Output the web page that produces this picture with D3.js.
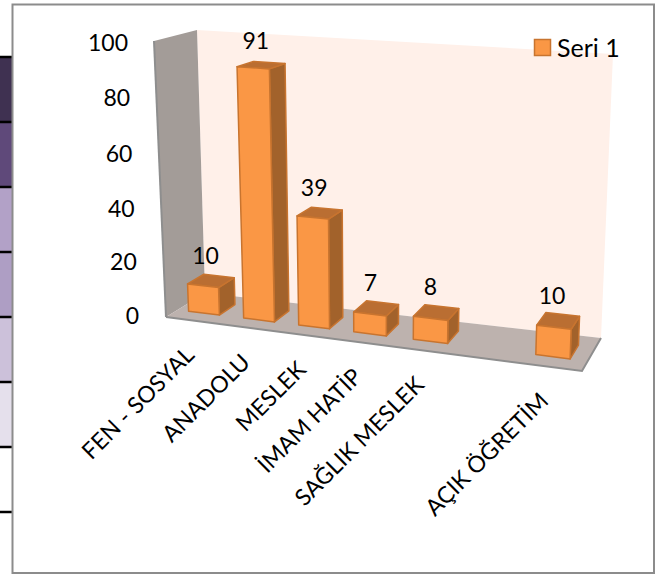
<!DOCTYPE html>
<html>
<head>
<meta charset="utf-8">
<script src="https://cdn.jsdelivr.net/npm/d3@7"></script>
<style>
  html, body { margin: 0; padding: 0; background: #fff; }
  text { font-family: Lato, sans-serif; fill: #000; }
</style>
</head>
<body>
<div id="container"></div>
<script>
/* DATA */
const categories = ["FEN - SOSYAL", "ANADOLU", "MESLEK", "İMAM HATİP", "SAĞLIK MESLEK", "", "AÇIK ÖĞRETİM"];
const values = [10, 91, 39, 7, 8, null, 10];
const yTicks = [0, 20, 40, 60, 80, 100];
const seriesName = "Seri 1";
// slide table showing behind the chart, left edge
const tableRows = [0, 1, 2, 3, 4, 5, 6, 7];
const tableColors = ["#3F3151", "#5F497A", "#B2A1C7", "#AE9EC4", "#CCC1DA", "#E5E0EC", "#FFFFFF"];

/* CONSTANTS */
const width = 663, height = 574;
const frame = {left: 12.5, top: 4.5, right: 654, bottom: 573};
const fontSize = 23;

// corners of the 3D box: front/back, left/right, bottom/top
const box = {
  flb: [166, 317], flt: [154, 41],
  blb: [205, 293], blt: [197, 30],
  frb: [582, 371], frt: [593, 68],
  brb: [601, 338], brt: [613, 54]
};

const colors = {
  front: "#FA9745", top: "#BA6E32", side: "#A2622B", stroke: "#C8742F",
  back: "#FFF0E9", wall: "#A39C98", floor: "#BDB2AE", edge: "#8E8E8E"
};

/* SCALES */
// v goes 0-100 on the wall, u across the floor, d into the depth
const vScale = d3.scaleLinear().domain([0, 100]).range([0, 1]);
// perspective bunches the near slots, so u is not quite linear
const uWarp = d3.scaleLinear().domain([0, 0.5, 1]).range([-0.003, 0.467, 0.99]);
const xBand = d3.scaleBand().domain(d3.range(categories.length)).range([0, 1])
  .paddingInner(0.44).paddingOuter(0.22);
// tick labels sit a bit unevenly on the slanted edge
const yAxisScale = d3.scaleLinear().domain([0, 50, 100]).range([316, 182, 43]);
const yLabelRight = d3.scaleLinear().domain([0, 100]).range([139, 128]);
const tableY = d3.scaleLinear().domain([0, 7]).range([57, 512]);

function project(u, d, value) {
  const t = vScale(value);
  const lerp = (a, b, k) => [a[0] + (b[0] - a[0]) * k, a[1] + (b[1] - a[1]) * k];
  const fl = lerp(box.flb, box.flt, t), fr = lerp(box.frb, box.frt, t);
  const bl = lerp(box.blb, box.blt, t), br = lerp(box.brb, box.brt, t);
  return lerp(lerp(fl, fr, u), lerp(bl, br, u), d);
}

const line = d3.line().curve(d3.curveLinearClosed);

/* DRAW */
const svg = d3.select("#container").append("svg")
  .attr("width", width).attr("height", height)
  .style("display", "block");

// table behind the chart
svg.append("g").selectAll("rect")
  .data(tableColors)
  .join("rect")
  .attr("x", 0).attr("width", frame.left)
  .attr("y", (d, i) => tableY(i))
  .attr("height", tableY(1) - tableY(0))
  .attr("fill", d => d);
svg.append("g").selectAll("line")
  .data(tableRows)
  .join("line")
  .attr("x1", 0).attr("x2", frame.left)
  .attr("y1", d => tableY(d)).attr("y2", d => tableY(d))
  .attr("stroke", "#000").attr("stroke-width", 2.5);

svg.append("rect")
  .attr("x", frame.left).attr("y", frame.top)
  .attr("width", frame.right - frame.left).attr("height", frame.bottom - frame.top)
  .attr("fill", "#fff").attr("stroke", "#8C8C8C").attr("stroke-width", 2);

// walls and floor
svg.append("path").attr("d", line([box.blb, box.blt, box.brt, box.brb])).attr("fill", colors.back);
svg.append("path").attr("d", line([box.flb, box.flt, box.blt, box.blb])).attr("fill", colors.wall);
svg.append("path").attr("d", "M" + box.flt + "L" + box.flb).attr("stroke", colors.edge).attr("stroke-width", 2).attr("fill", "none");
svg.append("path").attr("d", line([box.flb, box.blb, box.brb, box.frb])).attr("fill", colors.floor);
svg.append("path").attr("d", "M" + box.flb + "L" + box.frb + "L" + box.brb).attr("stroke", colors.edge).attr("stroke-width", 2).attr("fill", "none");

// y axis: axisLeft lays the labels out, then each one slides along the slanted edge
const yAxisGroup = svg.append("g")
  .call(d3.axisLeft(yAxisScale).tickValues(yTicks).tickSize(0))
  .call(g => g.select(".domain").remove());
yAxisGroup.selectAll("text")
  .attr("x", d => yLabelRight(d))
  .attr("font-size", fontSize);

// bars
const depthFront = 0.3, depthBack = 0.72;
const bars = categories.map((c, i) => ({i, value: values[i]})).filter(d => d.value !== null);

const barGroup = svg.selectAll("g.bar")
  .data(bars)
  .join("g")
  .attr("class", "bar")
  .attr("stroke", colors.stroke)
  .attr("stroke-width", 1.5)
  .attr("stroke-linejoin", "round");

const left = d => uWarp(xBand(d.i));
const right = d => uWarp(xBand(d.i) + xBand.bandwidth());

barGroup.append("path")
  .attr("fill", colors.side)
  .attr("d", d => line([
    project(right(d), depthFront, 0), project(right(d), depthBack, 0),
    project(right(d), depthBack, d.value), project(right(d), depthFront, d.value)
  ]));
barGroup.append("path")
  .attr("fill", colors.top)
  .attr("d", d => line([
    project(left(d), depthFront, d.value), project(right(d), depthFront, d.value),
    project(right(d), depthBack, d.value), project(left(d), depthBack, d.value)
  ]));
barGroup.append("path")
  .attr("fill", colors.front)
  .attr("d", d => line([
    project(left(d), depthFront, 0), project(right(d), depthFront, 0),
    project(right(d), depthFront, d.value), project(left(d), depthFront, d.value)
  ]));

// value labels
svg.selectAll("text.value")
  .data(bars)
  .join("text")
  .attr("class", "value")
  .attr("text-anchor", "middle")
  .attr("dominant-baseline", "central")
  .attr("font-size", fontSize)
  .attr("x", d => project((left(d) + right(d)) / 2, 0.55, d.value)[0] - 7)
  .attr("y", d => project((left(d) + right(d)) / 2, 0.55, d.value)[1] - 25)
  .text(d => d.value);

// category labels
svg.selectAll("text.cat")
  .data(categories.map((c, i) => ({c, i})).filter(d => d.c !== ""))
  .join("text")
  .attr("class", "cat")
  .attr("text-anchor", "end")
  .attr("font-size", fontSize)
  .attr("transform", d => {
    const p = project(uWarp(xBand(d.i) + xBand.bandwidth() / 2), 0, 0);
    return `translate(${p[0] + 3},${p[1] + 36}) rotate(-45)`;
  })
  .text(d => d.c);

// legend
svg.append("rect")
  .attr("x", 534.5).attr("y", 39.5).attr("width", 16).attr("height", 16)
  .attr("fill", colors.front).attr("stroke", colors.stroke).attr("stroke-width", 1.5);
svg.append("text")
  .attr("x", 557).attr("y", 47)
  .attr("dominant-baseline", "central")
  .attr("font-size", fontSize + 2)
  .text(seriesName);
</script>
</body>
</html>
